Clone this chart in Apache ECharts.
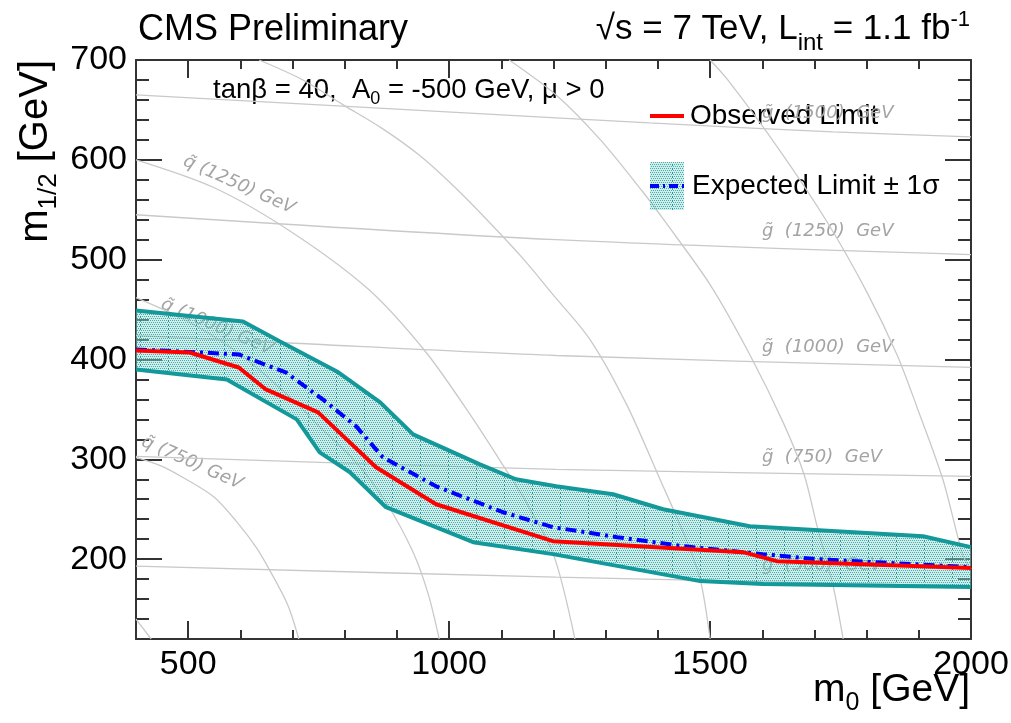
<!DOCTYPE html>
<html>
<head>
<meta charset="utf-8">
<script src="https://cdn.jsdelivr.net/npm/echarts@6.0.0/dist/echarts.min.js"></script>
<style>
  html, body { margin: 0; padding: 0; background: #fff; }
  #chart { width: 1011px; height: 723px; }
</style>
</head>
<body>
<div id="chart"></div>
<script>
// limits (m0, m1/2 in GeV)
const obsM0  = [400, 503, 597, 649, 749, 860, 975, 1199, 1563, 1628, 2000];
const obsM12 = [409, 407, 392, 370, 347, 292, 255, 218, 207, 198, 191];

const expM0  = [400, 526, 597, 687, 758, 822, 873, 975, 1103, 1199, 1322, 1448, 1601, 1705, 2000];
const expM12 = [410, 407, 405, 387, 360, 333, 302, 273, 247, 232, 222, 213, 205, 200, 192];

const bandUpM0  = [400, 605, 676, 785, 868, 931, 1059, 1128, 1205, 1314, 1410, 1576, 1908, 2000];
const bandUpM12 = [449, 438, 418, 388, 357, 325, 295, 280, 273, 265, 250, 233, 223, 212];

const bandLoM0  = [400, 574, 708, 752, 810, 879, 1046, 1199, 1481, 1601, 2000];
const bandLoM12 = [390, 380, 340, 307, 287, 252, 217, 205, 178, 175, 172];

// gluino / squark mass contours, [m0, m1/2]
const gl1500 = [[400, 665], [1205, 642], [1384, 637], [1735, 628], [2000, 623]];
const gl1250 = [[400, 545], [1205, 520], [2000, 505]];
const gl1000 = [[400, 424], [674, 417], [1205, 404], [2000, 392]];
const gl750  = [[400, 303], [1205, 290], [2000, 283]];
const gl500  = [[400, 193], [1205, 182], [2000, 173]];

const sq500  = [[400, 140], [429, 120]];
const sq750  = [[400, 302], [450, 293], [496, 280], [550, 262], [592, 238], [630, 212], [655, 190], [690, 155], [712, 120]];
const sq1000 = [[400, 462], [500, 438], [600, 405], [700, 360], [751, 333], [820, 298], [879, 257], [931, 207], [960, 165], [981, 120]];
const sq1250 = [[400, 600], [550, 572], [700, 527], [846, 470], [956, 407], [1040, 345], [1096, 300], [1150, 255], [1201, 203], [1241, 120]];
const sq1500 = [[636, 700], [720, 680], [797, 655], [870, 632], [942, 605], [1010, 573], [1076, 538], [1140, 502], [1199, 465], [1270, 420], [1340, 355], [1404, 280], [1450, 225], [1481, 180], [1500, 120]];
const sq1750 = [[1115, 700], [1205, 665], [1290, 620], [1371, 568], [1414, 538], [1500, 475], [1576, 405], [1640, 337], [1680, 285], [1705, 233], [1735, 175], [1755, 120]];
const sq2000 = [[1500, 700], [1534, 680], [1630, 612], [1724, 538], [1800, 468], [1858, 405], [1896, 353], [1946, 280], [1985, 203], [2000, 190]];

const xMajorTicks = [500, 1000, 1500, 2000];
const yMajorTicks = [200, 300, 400, 500, 600, 700];

const zip = (a, b) => a.map((v, i) => [v, b[i]]);

// dotted teal hatch for the 1 sigma band
const pat = document.createElement('canvas');
pat.width = 28; pat.height = 4;
(function () {
  const c = pat.getContext('2d');
  c.fillStyle = 'rgba(150,215,212,0.45)';
  c.fillRect(0, 0, 28, 4);
  c.fillStyle = 'rgba(40,165,160,0.85)';
  for (let y = 0; y < 4; y += 2) {
    for (let x = 0; x < 28; x += 2) c.fillRect(x + (y % 4 ? 1 : 0), y, 1, 1);
  }
  c.fillStyle = 'rgba(20,140,135,0.8)';
  c.fillRect(0, 0, 1, 2);
})();
const hatch = { image: pat, repeat: 'repeat' };

// text runs with sub/superscripts
const mctx = document.createElement('canvas').getContext('2d');
function run(x, y, parts, align, rotation, z) {
  let w = 0;
  const kids = parts.map(([t, size, dy, color, font]) => {
    const f = (font || '') + ' ' + size + 'px "Liberation Sans"';
    const el = { type: 'text', x: w, y: dy || 0,
      style: { text: t, font: f, fill: color || '#000', textVerticalAlign: 'middle' } };
    mctx.font = f;
    w += mctx.measureText(t).width;
    return el;
  });
  const off = align === 'right' ? -w : align === 'center' ? -w / 2 : 0;
  kids.forEach(k => { k.x += off; });
  return { type: 'group', x, y, rotation: rotation || 0, z: z == null ? 10 : z, children: kids };
}

function grayLabel(x, y, text, rot, align) {
  return { type: 'text', x, y, rotation: rot || 0, z: 1,
    style: { text, font: 'italic 18px "DejaVu Sans"', fill: '#a4a4a4',
      textAlign: align || 'center', textVerticalAlign: 'middle' } };
}

const frame = { show: true, onZero: false, lineStyle: { color: '#333', width: 2 } };
function xAx(pos, major) {
  return {
    type: 'value', min: 400, max: 2000, position: pos,
    interval: major ? undefined : 100,
    axisLine: major ? frame : { show: false },
    axisTick: major
      ? { show: true, inside: true, length: 18, customValues: xMajorTicks, lineStyle: { color: '#333', width: 2 } }
      : { show: true, inside: true, length: 9, lineStyle: { color: '#333', width: 2 } },
    axisLabel: major && pos === 'bottom'
      ? { show: true, customValues: xMajorTicks, formatter: v => String(v), fontSize: 34,
          fontFamily: 'Liberation Sans', color: '#000', margin: 9 }
      : { show: false },
    splitLine: { show: false }
  };
}
function yAx(pos, major) {
  return {
    type: 'value', min: 120, max: 700, position: pos,
    interval: major ? undefined : 20,
    axisLine: major ? frame : { show: false },
    axisTick: major
      ? { show: true, inside: true, length: 26, customValues: yMajorTicks, lineStyle: { color: '#333', width: 2 } }
      : { show: true, inside: true, length: 13, lineStyle: { color: '#333', width: 2 } },
    axisLabel: major && pos === 'left'
      ? { show: true, customValues: yMajorTicks, formatter: v => String(v), fontSize: 34,
          fontFamily: 'Liberation Sans', color: '#000', margin: 9 }
      : { show: false },
    splitLine: { show: false }
  };
}

const contour = data => ({
  type: 'line', data, symbol: 'none', smooth: 0.3, silent: true, z: 1,
  lineStyle: { color: '#c9c9c9', width: 1.3 }
});

const chart = echarts.init(document.getElementById('chart'));
chart.setOption({
  animation: false,
  backgroundColor: '#fff',
  grid: { left: 136, right: 40, top: 60, bottom: 84, containLabel: false, outerBoundsMode: 'none' },
  xAxis: [xAx('bottom', true), xAx('bottom', false), xAx('top', true), xAx('top', false)],
  yAxis: [yAx('left', true), yAx('left', false), yAx('right', true), yAx('right', false)],
  series: [
    ...[gl1500, gl1250, gl1000, gl750, gl500, sq500, sq750, sq1000, sq1250, sq1500, sq1750, sq2000].map(contour),
    {
      type: 'custom', z: 2, silent: true, clip: true,
      data: [[bandUpM0[0], bandUpM12[0]]],
      renderItem: (params, api) => {
        const pts = zip(bandUpM0, bandUpM12).concat(zip(bandLoM0, bandLoM12).reverse()).map(p => api.coord(p));
        return { type: 'polygon', shape: { points: pts }, style: { fill: hatch } };
      }
    },
    { type: 'line', data: zip(bandUpM0, bandUpM12), symbol: 'none', z: 3, silent: true,
      lineStyle: { color: '#13999a', width: 4 } },
    { type: 'line', data: zip(bandLoM0, bandLoM12), symbol: 'none', z: 3, silent: true,
      lineStyle: { color: '#13999a', width: 4 } },
    { name: 'Expected Limit', type: 'line', data: zip(expM0, expM12), symbol: 'none', z: 4,
      lineStyle: { color: '#0000ff', width: 4, type: [11, 5, 3, 5] } },
    { name: 'Observed Limit', type: 'line', data: zip(obsM0, obsM12), symbol: 'none', z: 5,
      lineStyle: { color: '#ff0000', width: 4 } }
  ],
  graphic: { elements: [
    // contour labels
    grayLabel(762, 113, 'g\u0303  (1500)  GeV', 0, 'left'),
    grayLabel(762, 231, 'g\u0303  (1250)  GeV', 0, 'left'),
    grayLabel(762, 347, 'g\u0303  (1000)  GeV', 0, 'left'),
    grayLabel(762, 457, 'g\u0303  (750)  GeV', 0, 'left'),
    grayLabel(762, 565, 'g\u0303  (500)  GeV', 0, 'left'),
    grayLabel(239, 185, 'q\u0303 (1250) GeV', -24 * Math.PI / 180),
    grayLabel(217, 327, 'q\u0303 (1000) GeV', -23 * Math.PI / 180),
    grayLabel(192, 463, 'q\u0303 (750) GeV', -24 * Math.PI / 180),
    // header
    run(138, 30, [['CMS Preliminary', 36]], 'left'),
    run(970, 29, [['\u221As = 7 TeV, L', 35], ['int', 24, 14], [' = 1.1 fb', 35], ['-1', 22, -9]], 'right'),
    run(213, 90, [['tan\u03B2 = 40,  A', 27.5], ['0', 18, 9], [' = -500 GeV, \u03BC > 0', 27.5]], 'left'),
    // axis names
    run(970, 690, [['m', 39], ['0', 25, 13], [' [GeV]', 39]], 'right'),
    run(36, 60, [['m', 40], ['1/2', 26, 13], [' [GeV]', 40]], 'right', Math.PI / 2),
    // legend
    { type: 'line', z: 10, shape: { x1: 650, y1: 116, x2: 684, y2: 116 }, style: { stroke: '#ff0000', lineWidth: 4 } },
    { type: 'rect', z: 10, shape: { x: 650, y: 162, width: 34, height: 48 }, style: { fill: hatch } },
    { type: 'line', z: 11, shape: { x1: 650, y1: 186, x2: 684, y2: 186 }, style: { stroke: '#0000ff', lineWidth: 4, lineDash: [9, 4, 2, 4] } },
    run(690, 116, [['Observed Limit', 28]], 'left'),
    run(692, 186, [['Expected Limit \u00B1 1\u03C3', 28]], 'left')
  ] }
});
window.addEventListener('resize', () => chart.resize());
</script>
</body>
</html>
